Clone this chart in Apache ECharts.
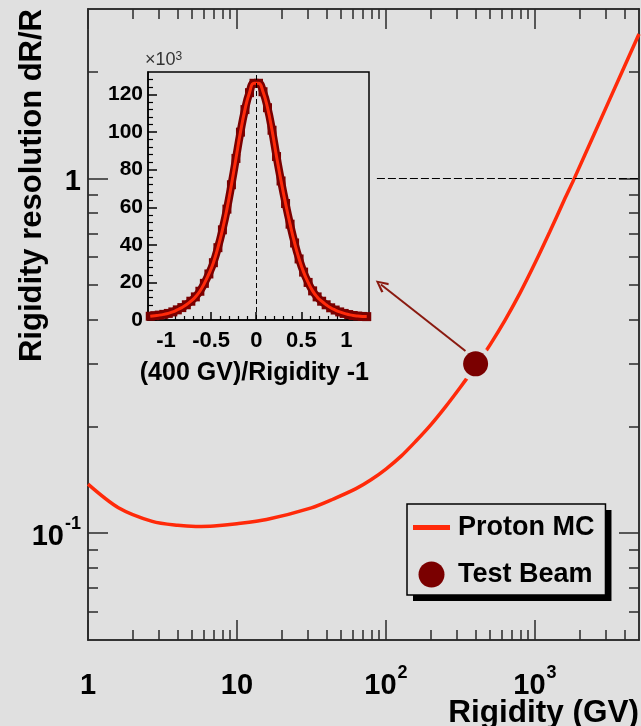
<!DOCTYPE html>
<html><head><meta charset="utf-8">
<script src="https://cdn.jsdelivr.net/npm/echarts@6/dist/echarts.min.js"></script>
<style>html,body{margin:0;padding:0;background:#e0e0e0}#c{width:641px;height:726px}</style>
</head><body><div id="c"></div>
<script>
// ---- main curve: Proton MC rigidity resolution ----
const rigidity   = [1, 1.6, 2.7, 4, 5.3, 7, 10, 15.8, 31.6, 44.7, 63, 79.4, 100, 126, 158, 200, 251, 316, 408, 501, 631, 794, 1000, 1259, 1585, 1821, 3162, 5000];
const resolution = [0.1375, 0.118, 0.108, 0.1052, 0.1045, 0.1048, 0.1063, 0.1093, 0.1179, 0.125, 0.1335, 0.1414, 0.1516, 0.1646, 0.1813, 0.202, 0.227, 0.2578, 0.299, 0.340, 0.3985, 0.4746, 0.576, 0.7069, 0.874, 0.99, 1.661, 2.55];
// ---- test beam point ----
const beamRigidity  = [400];
const beamResolution = [0.30];
// ---- annotations (data units) ----
const refLevel = 1;
const refLineFrom = 87, refLineTo = 5000;
const arrowFrom = [342, 0.326];
const arrowTo   = [92.5, 0.502];
// ---- main axis ticks ----
const xMajorTicks = [1, 10, 100, 1000];
const xMinorTicks = [2,3,4,5,6,7,8,9,20,30,40,50,60,70,80,90,200,300,400,500,600,700,800,900,2000,3000,4000];
const yMajorTicks = [0.1, 1];
const yMinorTicks = [0.06,0.07,0.08,0.09,0.2,0.3,0.4,0.5,0.6,0.7,0.8,0.9,2];
// ---- inset histogram: (400 GV)/Rigidity - 1, counts x10^3 ----
const histCenters = [-1.175,-1.125,-1.075,-1.025,-0.975,-0.925,-0.875,-0.825,-0.775,-0.725,-0.675,-0.625,-0.575,-0.525,-0.475,-0.425,-0.375,-0.325,-0.275,-0.225,-0.175,-0.125,-0.075,-0.025,
  0.025,0.075,0.125,0.175,0.225,0.275,0.325,0.375,0.425,0.475,0.525,0.575,0.625,0.675,0.725,0.775,0.825,0.875,0.925,0.975,1.025,1.075,1.125,1.175,1.225];
const histCounts = [2.0,2.3,2.6,3.0,3.5,4.3,5.4,6.6,8.1,10.0,12.3,15.3,19.5,24.5,30.5,38.5,48,59,72,86,100,112,121,126,
  126,121.5,113,101,87,74,62,51,41,32.5,25.5,20,15.5,12.3,10,8.1,6.5,5.3,4.3,3.5,2.9,2.4,2.1,1.9,1.8];
const insetXMajor = [-1, -0.5, 0, 0.5, 1];
const insetXMinor = [-1.2,-1.1,-0.9,-0.8,-0.7,-0.6,-0.4,-0.3,-0.2,-0.1,0.1,0.2,0.3,0.4,0.6,0.7,0.8,0.9,1.1,1.2];
const insetYMajor = [0, 20, 40, 60, 80, 100, 120];
const insetYMinor = [4,8,12,16,24,28,32,36,44,48,52,56,64,68,72,76,84,88,92,96,104,108,112,116,124,128];

const FONT = "'Liberation Sans', Arial, sans-serif";
const BG = '#e0e0e0';
const RED = '#ff2a0a';
const DARKRED = '#7a0000';
const AXC = '#2a2a2a';

function logLabel(v) {
  const e = Math.round(Math.log10(v));
  if (e === 0) return '{b|1}';
  if (e === 1) return '{b|10}';
  return '{b|10}{s|' + e + '}';
}
const richMain = {
  b: {fontSize: 29, fontWeight: 'bold', fontFamily: FONT, color: '#000', padding: [7, 0, 0, 0]},
  s: {fontSize: 18, fontWeight: 'bold', fontFamily: FONT, color: '#000', verticalAlign: 'top', padding: [0, 0, 0, 1]}
};
const pairs = (xs, ys) => xs.map((x, i) => [x, ys[i]]);

function mainX(pos, ticks, len, withLabels) {
  return {
    type: 'log', logBase: 10, gridIndex: 0, min: 1, max: 5000, position: pos,
    axisLine: {show: true, onZero: false, lineStyle: {color: AXC, width: 1.5}},
    axisTick: {show: true, inside: true, length: len, customValues: ticks, lineStyle: {color: AXC, width: 1.5}},
    axisLabel: withLabels ? {show: true, customValues: ticks, margin: 24, formatter: logLabel, rich: richMain} : {show: false},
    splitLine: {show: false}, minorTick: {show: false}
  };
}
function mainY(pos, ticks, len, withLabels) {
  return {
    type: 'log', logBase: 10, gridIndex: 0, min: 0.05, max: 3, position: pos,
    axisLine: {show: true, onZero: false, lineStyle: {color: AXC, width: 1.5}},
    axisTick: {show: true, inside: true, length: len, customValues: ticks, lineStyle: {color: AXC, width: 1.5}},
    axisLabel: withLabels ? {show: true, customValues: ticks, margin: 7, formatter: logLabel, rich: richMain} : {show: false},
    splitLine: {show: false}, minorTick: {show: false}
  };
}

const xAxes = [
  Object.assign(mainX('bottom', xMajorTicks, 20, true), {
    name: 'Rigidity (GV)', nameLocation: 'end', nameGap: 0, nameMoveOverlap: false,
    nameTextStyle: {fontSize: 31.5, fontWeight: 'bold', fontFamily: FONT, color: '#000', align: 'right', verticalAlign: 'top', padding: [57, 0, 0, 0]}
  }),
  mainX('bottom', xMinorTicks, 10, false),
  mainX('top', xMajorTicks, 20, false),
  mainX('top', xMinorTicks, 10, false),
  {
    type: 'value', gridIndex: 1, min: -1.2, max: 1.25, position: 'bottom',
    axisLine: {show: true, onZero: false, lineStyle: {color: '#000', width: 1.5}},
    axisTick: {show: true, inside: true, length: 8, customValues: insetXMajor, lineStyle: {color: '#000', width: 1.5}},
    axisLabel: {show: true, customValues: insetXMajor, margin: 10, fontSize: 22, fontWeight: 'bold', fontFamily: FONT, color: '#000'},
    splitLine: {show: false},
    name: '(400 GV)/Rigidity -1', nameLocation: 'end', nameGap: 0, nameMoveOverlap: false,
    nameTextStyle: {fontSize: 25, fontWeight: 'bold', fontFamily: FONT, color: '#000', align: 'right', verticalAlign: 'top', padding: [41, 0, 0, 0]}
  },
  {
    type: 'value', gridIndex: 1, min: -1.2, max: 1.25, position: 'bottom',
    axisLine: {show: false, onZero: false},
    axisTick: {show: true, inside: true, length: 4, customValues: insetXMinor, lineStyle: {color: '#000', width: 1.2}},
    axisLabel: {show: false}, splitLine: {show: false}
  }
];
const yAxes = [
  Object.assign(mainY('left', yMajorTicks, 20, true), {
    name: 'Rigidity resolution dR/R', nameLocation: 'end', nameGap: 0, nameRotate: 90, nameMoveOverlap: false,
    nameTextStyle: {fontSize: 31, fontWeight: 'bold', fontFamily: FONT, color: '#000', align: 'right', verticalAlign: 'bottom', padding: [0, 0, 40, 0]}
  }),
  mainY('left', yMinorTicks, 10, false),
  mainY('right', yMajorTicks, 20, false),
  mainY('right', yMinorTicks, 10, false),
  {
    type: 'value', gridIndex: 1, min: 0, max: 132, position: 'left',
    axisLine: {show: true, onZero: false, lineStyle: {color: '#000', width: 1.5}},
    axisTick: {show: true, inside: true, length: 9, customValues: insetYMajor, lineStyle: {color: '#000', width: 1.5}},
    axisLabel: {show: true, customValues: insetYMajor, margin: 5, fontSize: 21, fontWeight: 'bold', fontFamily: FONT, color: '#000'},
    splitLine: {show: false},
    name: '×10{s|3}', nameLocation: 'end', nameGap: 3, nameMoveOverlap: false,
    nameTextStyle: {fontSize: 18, fontFamily: FONT, color: '#333', align: 'left', verticalAlign: 'bottom', padding: [0, 0, 0, -3],
      rich: {s: {fontSize: 12, fontFamily: FONT, color: '#333', verticalAlign: 'top'}}}
  },
  {
    type: 'value', gridIndex: 1, min: 0, max: 132, position: 'left',
    axisLine: {show: false, onZero: false},
    axisTick: {show: true, inside: true, length: 5, customValues: insetYMinor, lineStyle: {color: '#000', width: 1.2}},
    axisLabel: {show: false}, splitLine: {show: false}
  }
];

const chevron = 'path://M5,0 L10,9 L8.4,10 L5,3.2 L1.6,10 L0,9 Z';

const legendBase = {
  left: 407, top: 504, orient: 'vertical',
  itemWidth: 37, itemHeight: 26, itemGap: 20,
  padding: [10, 11, 7, 6],
  selectedMode: false
};
const legendData = [{name: 'Proton MC', icon: 'path://M0,0h36v5h-36z'}, {name: 'Test Beam', icon: 'circle'}];
const legendText = {fontSize: 27, fontWeight: 'bold', fontFamily: FONT, color: '#000', padding: [0, 0, 0, 3]};

const option = {
  backgroundColor: BG,
  animation: false,
  grid: [
    {left: 88, right: 2, top: 9, bottom: 86, containLabel: false, outerBoundsMode: 'none', show: false},
    {left: 148, right: 272, top: 72, bottom: 406, containLabel: false, outerBoundsMode: 'none', show: true, borderColor: '#000', borderWidth: 1.5, backgroundColor: 'transparent'}
  ],
  xAxis: xAxes,
  yAxis: yAxes,
  legend: [
    Object.assign({}, legendBase, {
      data: legendData, backgroundColor: BG, borderWidth: 0,
      shadowColor: '#000', shadowBlur: 0, shadowOffsetX: 6, shadowOffsetY: 6,
      textStyle: legendText
    }),
    Object.assign({}, legendBase, {
      data: legendData, backgroundColor: 'transparent', borderColor: '#000', borderWidth: 1.5,
      textStyle: Object.assign({}, legendText, {color: 'rgba(0,0,0,0)'}),
      itemStyle: {opacity: 0}, lineStyle: {opacity: 0}
    })
  ],
  series: [
    {
      name: 'Proton MC', type: 'line', xAxisIndex: 0, yAxisIndex: 0,
      data: pairs(rigidity, resolution), smooth: 0.3, symbol: 'none',
      lineStyle: {color: RED, width: 3.5}, itemStyle: {color: RED}, z: 3,
      markLine: {
        silent: true, symbol: 'none', label: {show: false}, animation: false,
        data: [[
          {coord: [refLineFrom, refLevel], lineStyle: {color: '#000', width: 1, type: [8, 3]}},
          {coord: [refLineTo, refLevel]}
        ]]
      }
    },
    {
      name: 'halo', type: 'scatter', xAxisIndex: 0, yAxisIndex: 0,
      data: pairs(beamRigidity, beamResolution), symbolSize: 35,
      itemStyle: {color: BG, opacity: 1}, z: 4, silent: true
    },
    {
      name: 'Test Beam', type: 'scatter', xAxisIndex: 0, yAxisIndex: 0,
      data: pairs(beamRigidity, beamResolution), symbolSize: 25,
      itemStyle: {color: DARKRED, opacity: 1}, z: 5,
      markLine: {
        silent: true, label: {show: false}, animation: false,
        symbol: ['none', chevron], symbolSize: [12, 13],
        lineStyle: {color: '#8a1a10', width: 2, type: 'solid', opacity: 1},
        data: [[{coord: arrowFrom}, {coord: arrowTo}]]
      }
    },
    {
      name: 'hist', type: 'line', xAxisIndex: 4, yAxisIndex: 4,
      data: pairs(histCenters, histCounts), smooth: 0.5, symbol: 'rect', symbolSize: 9, showSymbol: true, showAllSymbol: true,
      lineStyle: {color: DARKRED, width: 8}, itemStyle: {color: DARKRED, opacity: 1}, z: 3,
      markLine: {
        silent: true, symbol: 'none', label: {show: false}, animation: false,
        lineStyle: {color: '#000', width: 1, type: [5, 3]},
        data: [{xAxis: 0}]
      }
    },
    {
      name: 'fit', type: 'line', xAxisIndex: 4, yAxisIndex: 4,
      data: pairs(histCenters, histCounts), smooth: 0.5, symbol: 'none',
      lineStyle: {color: RED, width: 3}, z: 4
    }
  ]
};
echarts.init(document.getElementById('c')).setOption(option);
</script>
</body></html>
